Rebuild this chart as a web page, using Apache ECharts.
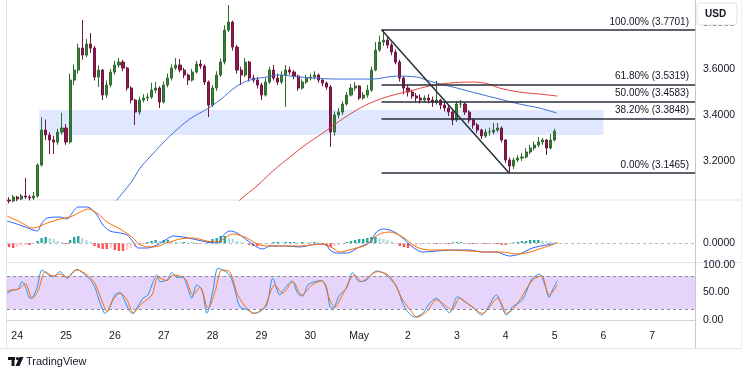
<!DOCTYPE html>
<html><head><meta charset="utf-8">
<script src="https://cdn.jsdelivr.net/npm/echarts@6/dist/echarts.min.js"></script>
<style>html,body{margin:0;padding:0;background:#fff}#c{width:749px;height:375px}</style>
</head><body><div id="c"></div>
<script>
// ---- axis / category setup (2-hour bars starting Apr 23 20:00) ----
const totalBars = 169;
const firstMidnightBar = 2;
const barsPerDay = 12;
const tickLabels = ['24','25','26','27','28','29','30','May','2','3','4','5','6','7'];
const priceTicks = [3.2, 3.4, 3.6, 3.8];

// ---- candles ----
const opens = [3.0300,3.0257,3.0430,3.0343,3.0474,3.0430,3.0387,3.0474,3.1822,3.3343,
3.3126,3.2909,3.2822,3.3257,3.3430,3.2822,3.5517,3.5952,3.6909,3.6604,
3.7083,3.6909,3.5648,3.5952,3.4865,3.5300,3.5865,3.6170,3.6300,3.6039,
3.5170,3.4648,3.4126,3.4648,3.4735,3.4778,3.5083,3.5170,3.4561,3.5300,
3.5604,3.6039,3.6170,3.5952,3.5735,3.5517,3.5865,3.6213,3.6126,3.5430,
3.4430,3.5170,3.5735,3.6300,3.7691,3.8039,3.6952,3.5952,3.5735,3.6300,
3.5604,3.5517,3.5300,3.4865,3.5430,3.5952,3.5604,3.5430,3.5735,3.5952,
3.5865,3.5691,3.5170,3.5430,3.5604,3.5648,3.5735,3.5517,3.5387,3.5213,
3.3257,3.3996,3.4126,3.4474,3.4865,3.5170,3.5257,3.4735,3.4865,3.5083,
3.5952,3.6822,3.7170,3.7257,3.7039,3.6735,3.6300,3.5604,3.5170,3.4996,
3.4822,3.4735,3.4648,3.4735,3.4648,3.4561,3.4648,3.4430,3.4300,3.4126,
3.3778,3.4474,3.4474,3.4126,3.3778,3.3561,3.3343,3.3083,3.3257,3.3257,
3.3343,3.3430,3.2909,3.2039,3.1778,3.2039,3.2126,3.2170,3.2387,3.2561,
3.2691,3.2822,3.2909,3.2561,3.2909];
const closes = [3.0257,3.0430,3.0343,3.0474,3.0430,3.0387,3.0474,3.1822,3.3343,3.3126,
3.2909,3.2822,3.3257,3.3430,3.2822,3.5517,3.5952,3.6909,3.6604,3.7083,
3.6909,3.5648,3.5952,3.4865,3.5300,3.5865,3.6170,3.6300,3.6039,3.5170,
3.4648,3.4126,3.4648,3.4735,3.4778,3.5083,3.5170,3.4561,3.5300,3.5604,
3.6039,3.6170,3.5952,3.5735,3.5517,3.5865,3.6213,3.6126,3.5430,3.4430,
3.5170,3.5735,3.6300,3.7691,3.8039,3.6952,3.5952,3.5735,3.6300,3.5604,
3.5517,3.5300,3.4865,3.5430,3.5952,3.5604,3.5430,3.5735,3.5952,3.5865,
3.5691,3.5170,3.5430,3.5604,3.5648,3.5735,3.5517,3.5387,3.5213,3.3257,
3.3996,3.4126,3.4474,3.4865,3.5170,3.5257,3.4735,3.4865,3.5083,3.5952,
3.6822,3.7170,3.7257,3.7039,3.6735,3.6300,3.5604,3.5170,3.4996,3.4822,
3.4735,3.4648,3.4735,3.4648,3.4561,3.4648,3.4430,3.4300,3.4126,3.3778,
3.4474,3.4474,3.4126,3.3778,3.3561,3.3343,3.3083,3.3257,3.3257,3.3343,
3.3430,3.2909,3.2039,3.1778,3.2039,3.2126,3.2170,3.2387,3.2561,3.2691,
3.2822,3.2909,3.2561,3.2909,3.3296];
const highs = [3.0420,3.0520,3.0480,3.0560,3.1260,3.0520,3.0650,3.1900,3.3900,3.3800,
3.3250,3.3100,3.3400,3.4100,3.3600,3.5800,3.6200,3.7100,3.8130,3.7300,
3.7560,3.7000,3.6150,3.6000,3.5500,3.6000,3.6350,3.6480,3.6400,3.6100,
3.5250,3.4700,3.4800,3.4900,3.4950,3.5400,3.5430,3.5250,3.5450,3.5800,
3.6200,3.6474,3.6430,3.6050,3.5800,3.6000,3.6350,3.6400,3.6200,3.5500,
3.5300,3.5900,3.6450,3.7900,3.8780,3.8100,3.7050,3.6100,3.6474,3.6350,
3.5750,3.5650,3.5400,3.5600,3.6100,3.6170,3.5800,3.5900,3.6170,3.6100,
3.5950,3.5750,3.5550,3.5750,3.5800,3.5900,3.5800,3.5600,3.5450,3.5300,
3.4150,3.4300,3.4600,3.5000,3.5350,3.5430,3.5300,3.5000,3.5300,3.6100,
3.7170,3.7450,3.7701,3.7400,3.7150,3.6850,3.6400,3.5700,3.5300,3.5100,
3.4950,3.4900,3.4850,3.4900,3.4800,3.5480,3.4700,3.4550,3.4400,3.4200,
3.4600,3.4650,3.4550,3.4200,3.3850,3.3650,3.3400,3.3400,3.3450,3.3650,
3.3650,3.3500,3.2950,3.2150,3.2150,3.2250,3.2350,3.2550,3.2700,3.2850,
3.3040,3.3000,3.2950,3.3170,3.3400];
const lows = [3.0150,3.0200,3.0250,3.0300,3.0350,3.0280,3.0300,3.0400,3.1750,3.2900,
3.2300,3.2300,3.2700,3.3150,3.2700,3.2750,3.5300,3.5800,3.6400,3.6500,
3.6700,3.5500,3.5213,3.4648,3.4750,3.5200,3.5750,3.6050,3.5900,3.5050,
3.4500,3.3561,3.4000,3.4550,3.4600,3.4700,3.4950,3.4300,3.4500,3.5200,
3.5500,3.5950,3.5850,3.5600,3.5300,3.5450,3.5800,3.6000,3.5300,3.3909,
3.4350,3.5050,3.5650,3.6200,3.7600,3.6800,3.5800,3.5300,3.5650,3.5450,
3.5400,3.5150,3.4648,3.4800,3.5350,3.5500,3.5300,3.5350,3.4350,3.5750,
3.5550,3.5050,3.5100,3.5350,3.5500,3.5550,3.5400,3.5250,3.5100,3.2610,
3.3100,3.3850,3.4000,3.4400,3.4800,3.5050,3.4648,3.4650,3.4750,3.5000,
3.5900,3.6750,3.7000,3.6900,3.6600,3.6200,3.5450,3.4900,3.4800,3.4700,
3.4550,3.4500,3.4550,3.4500,3.4350,3.4450,3.4250,3.4150,3.3950,3.3561,
3.3700,3.4300,3.4000,3.3650,3.3400,3.3200,3.2950,3.3000,3.3100,3.3150,
3.3250,3.2800,3.1900,3.1465,3.1650,3.1950,3.2000,3.2100,3.2300,3.2450,
3.2600,3.2700,3.2257,3.2500,3.2850];
const lastPrice = 3.3296;

// ---- moving averages: [bar index, price] ----
const maBlue = [[25.5,3.0083],[26.5,3.0300],[28.5,3.0735],[30.4,3.1170],[32.2,3.1691],[34.6,3.2170],
[37.1,3.2648],[40.3,3.3213],[44.4,3.3822],[48.6,3.4257],[51.8,3.4648],[56.0,3.5257],[59.2,3.5517],
[63.3,3.5648],[66.5,3.5735],[71.4,3.5648],[81.2,3.5561],[89.3,3.5561],[95.2,3.5691],[100.1,3.5648],
[103.3,3.5474],[110.0,3.5170],[115.6,3.4909],[120.5,3.4691],[125.4,3.4474],[130.3,3.4300],[134.5,3.4083]];
const maRed = [[56.0,3.0083],[56.7,3.0300],[60.9,3.0909],[64.8,3.1561],[69.0,3.2170],[73.1,3.2735],
[77.1,3.3213],[81.2,3.3735],[85.4,3.4213],[89.3,3.4561],[93.5,3.4822],[98.4,3.5039],[103.3,3.5257],
[108.2,3.5387],[113.1,3.5430],[116.8,3.5387],[120.5,3.5170],[125.4,3.4996],[130.3,3.4909],[134.7,3.4822]];

// ---- zone and fibonacci ----
const zoneStart = 7.4, zoneEnd = 146.0, zoneLow = 3.313, zoneHigh = 3.422;
const fibStart = 91.5, fibEnd = 168.5, fibLowBar = 122.9;
const fibRatios = [1, 0.618, 0.5, 0.382, 0];
const fibPrices = [3.7701, 3.5319, 3.4583, 3.3848, 3.1465];

// ---- MACD ----
const macdHist = [-0.008,-0.010,-0.008,-0.006,-0.004,-0.004,-0.002,0.004,0.010,0.012,
0.010,0.008,0.004,0.002,-0.002,0.006,0.012,0.014,0.010,0.006,
0.002,-0.006,-0.010,-0.012,-0.012,-0.010,-0.014,-0.016,-0.016,-0.014,
-0.010,-0.008,-0.004,-0.002,0.002,0.004,0.006,0.004,0.006,0.006,
0.004,0.003,0.002,0.002,0.001,0.001,-0.002,-0.002,-0.001,0.004,
0.008,0.010,0.014,0.014,0.010,0.008,0.004,0.002,0.001,-0.004,
-0.006,-0.006,-0.004,-0.002,-0.001,0.002,0.002,0.001,0.002,0.002,
0.002,0.001,0.002,0.001,0.001,0.002,0.001,-0.002,-0.006,-0.008,
-0.006,-0.004,-0.002,0.002,0.004,0.006,0.008,0.008,0.010,0.012,
0.012,0.010,0.008,0.006,0.004,0.001,-0.006,-0.008,-0.010,-0.008,
-0.006,-0.004,-0.002,-0.002,-0.001,-0.002,-0.001,-0.001,-0.002,0.001,
0.002,0.002,-0.001,-0.002,-0.002,-0.002,-0.001,-0.002,-0.002,-0.001,
-0.002,-0.004,-0.004,-0.002,0.001,0.002,0.004,0.004,0.006,0.006,
0.006,0.005,0.004,0.003,0.002];
const macdLine = [[-0.45,0.044],[2.7,0.036],[5.9,0.026],[6.9,0.024],[8.1,0.040],[9.4,0.050],[12.5,0.052],
[14.3,0.048],[15.5,0.060],[17.0,0.072],[18.7,0.072],[19.9,0.070],[21.6,0.056],[23.1,0.036],[24.8,0.024],
[27.3,0.020],[29.0,0.016],[30.5,0.002],[31.7,-0.010],[33.9,-0.010],[36.3,-0.004],[38.8,0.008],[40.3,0.014],
[42.7,0.012],[45.2,0.008],[48.6,0.002],[51.1,0.000],[52.5,0.014],[54.2,0.024],[56.0,0.020],[58.4,0.006],
[60.9,-0.008],[62.3,-0.012],[64.1,-0.006],[68.2,-0.006],[71.4,-0.008],[75.6,-0.002],[78.0,-0.004],
[78.8,-0.014],[80.5,-0.020],[82.9,-0.020],[86.1,-0.008],[88.6,0.002],[90.3,0.022],[91.8,0.028],
[94.2,0.024],[96.7,0.010],[99.1,-0.008],[101.6,-0.018],[105.0,-0.016],[108.9,-0.014],[113.1,-0.014],
[116.3,-0.018],[119.7,-0.018],[122.9,-0.026],[125.4,-0.022],[128.6,-0.010],[132.0,-0.004],[134.7,0.000]];
const macdSignal = [[-0.45,0.054],[2.7,0.042],[5.9,0.030],[9.4,0.040],[12.5,0.048],[15.0,0.052],[17.5,0.062],
[19.4,0.068],[21.6,0.060],[24.1,0.042],[27.3,0.028],[30.5,0.010],[32.2,-0.004],[35.4,-0.008],[38.8,0.000],
[42.0,0.008],[45.2,0.010],[48.6,0.004],[51.1,0.002],[55.0,0.018],[58.4,0.010],[61.6,-0.004],[64.8,-0.006],
[71.4,-0.006],[77.1,-0.002],[79.5,-0.010],[81.2,-0.018],[84.4,-0.012],[87.8,-0.004],[89.1,0.006],
[91.0,0.018],[93.5,0.022],[96.7,0.012],[100.1,-0.008],[103.3,-0.014],[108.2,-0.014],[113.1,-0.016],
[117.3,-0.018],[121.2,-0.018],[124.6,-0.022],[127.0,-0.020],[130.3,-0.012],[134.7,0.000]];

// ---- Stochastic ----
const stochK = [[-0.45,48.5],[1.0,54.5],[2.2,55.8],[3.2,69.7],[4.0,60.6],[5.2,39.4],[5.9,42.4],[6.9,59.4],
[8.1,90.9],[9.4,83.6],[10.8,78.8],[12.5,87.9],[14.3,75.8],[15.5,86.1],[16.7,92.1],[18.2,84.8],[19.9,73.9],
[21.1,59.4],[22.4,30.3],[23.6,12.1],[24.8,24.2],[26.0,45.5],[27.3,49.7],[28.5,33.3],[29.7,15.2],[30.5,12.1],
[31.7,25.5],[32.9,39.4],[34.1,45.5],[35.4,69.7],[36.3,81.8],[37.1,69.7],[38.8,72.7],[40.0,86.1],[41.2,77.6],
[42.7,77.6],[43.9,57.6],[44.9,39.4],[46.1,63.6],[47.4,54.5],[48.6,12.1],[50.1,54.5],[51.3,93.9],[52.5,90.9],
[54.2,81.8],[55.5,54.5],[56.7,24.2],[58.7,18.2],[59.9,12.1],[61.6,15.2],[63.3,27.3],[64.8,75.8],[66.5,45.5],
[67.7,57.6],[69.5,70.9],[70.9,48.5],[72.1,43.6],[73.4,63.6],[75.1,69.7],[76.8,71.5],[78.0,59.4],[78.8,24.2],
[79.5,21.2],[81.2,45.5],[82.9,57.6],[84.4,86.1],[86.1,69.7],[87.8,72.7],[89.3,85.0],[90.3,89.0],[91.8,86.1],
[93.5,76.0],[95.2,60.6],[96.7,30.3],[97.9,15.2],[99.6,5.5],[101.6,12.1],[103.3,30.3],[105.0,39.4],[106.2,30.3],
[108.2,13.3],[110.2,42.4],[111.9,33.3],[113.8,24.2],[116.1,9.1],[117.5,21.2],[119.7,45.5],[122.2,9.1],
[123.7,24.2],[126.1,36.4],[128.3,72.7],[130.3,83.6],[131.5,66.7],[132.7,41.2],[133.5,54.5],[134.7,71.5]];
const stochD = [[-0.45,53.3],[2.7,57.6],[4.0,66.7],[5.7,39.4],[7.2,54.5],[8.9,87.9],[10.8,80.0],[12.5,83.6],
[14.3,77.6],[16.7,90.9],[19.2,81.8],[21.1,66.7],[22.9,33.3],[24.1,15.2],[25.5,36.4],[27.3,48.5],[29.0,36.4],
[30.5,13.3],[32.7,30.3],[35.1,45.5],[36.6,77.6],[38.8,71.5],[40.3,81.8],[43.2,75.8],[45.2,45.5],[46.9,59.4],
[48.9,21.2],[50.6,51.5],[52.3,90.9],[54.2,87.9],[56.2,45.5],[58.4,21.2],[60.4,12.1],[62.8,24.2],[65.3,63.6],
[67.2,48.5],[69.7,69.7],[71.9,45.5],[74.4,63.6],[76.8,71.5],[78.8,36.4],[80.0,23.0],[81.9,45.5],[84.9,81.8],
[86.6,69.7],[88.6,80.0],[90.5,87.9],[92.8,83.6],[94.7,66.7],[96.7,36.4],[98.9,15.2],[100.1,4.8],[102.6,15.2],
[105.0,36.4],[106.5,30.3],[108.7,18.2],[110.7,39.4],[113.1,27.3],[116.3,12.1],[120.0,39.4],[122.4,12.1],
[124.9,30.3],[128.6,72.7],[130.8,80.0],[132.7,45.5],[134.7,63.6]];
const stochBand = [20, 80];

// ---------------- build ----------------
const cats = [];
for (let i = 0; i < totalBars; i++) cats.push('b' + i);
const candleData = opens.map((o, i) => [o, closes[i], lows[i], highs[i]]);
const histData = macdHist.map((v, i) => {
  const p = i > 0 ? macdHist[i - 1] : v;
  let c;
  if (v >= 0) c = v >= p ? '#26a69a' : '#b2dfdb';
  else c = v <= p ? '#ff5252' : '#ffcdd2';
  return { value: v, itemStyle: { color: c } };
});

const FONT = "'Liberation Sans', Arial, sans-serif";
const TXT = '#131722';
const G = { left: 7, right: 54 };
const hiddenCat = (g) => ({ type: 'category', gridIndex: g, data: cats, boundaryGap: true, show: false });
const hiddenVal = (g) => ({ type: 'value', gridIndex: g, min: -0.5, max: totalBars - 0.5, show: false });

const fibLines = fibRatios.map((r, k) => [
  { coord: [fibStart, fibPrices[k]],
    label: { show: true, position: 'insideEndTop', distance: [6, 3],
      formatter: (r * 100).toFixed(2) + '% (' + fibPrices[k].toFixed(4) + ')',
      color: TXT, fontSize: 10, fontFamily: "'Liberation Sans Narrow', " + FONT } },
  { coord: [fibEnd, fibPrices[k]] }
]);
fibLines.push([{ coord: [fibStart, fibPrices[0]], label: { show: false } }, { coord: [fibLowBar, fibPrices[4]] }]);

const option = {
  animation: false,
  backgroundColor: '#ffffff',
  grid: [
    { ...G, top: 0, height: 200 },
    { ...G, top: 200, height: 62 },
    { ...G, top: 265, height: 55 }
  ],
  xAxis: [
    hiddenCat(0), hiddenVal(0), hiddenCat(1), hiddenVal(1),
    { type: 'category', gridIndex: 2, data: cats, boundaryGap: true, offset: 4,
      axisLine: { show: true, lineStyle: { color: '#d1d4dc' } }, axisTick: { show: false },
      axisLabel: { interval: (idx) => idx >= firstMidnightBar && (idx - firstMidnightBar) % barsPerDay === 0,
        formatter: (v, idx) => tickLabels[(idx - firstMidnightBar) / barsPerDay] || '',
        color: TXT, fontSize: 10.5, fontFamily: FONT, margin: 7 } },
    hiddenVal(2)
  ],
  yAxis: [
    { type: 'value', gridIndex: 0, position: 'right', min: 3.03, max: 3.90, interval: 0.01,
      axisLine: { show: false }, axisTick: { show: false }, splitLine: { show: false },
      axisLabel: { margin: 8, color: TXT, fontSize: 10.5, fontFamily: FONT,
        formatter: (v) => priceTicks.some(t => Math.abs(v - t) < 1e-6) ? v.toFixed(4) : '' } },
    { type: 'value', gridIndex: 1, position: 'right', min: -0.038, max: 0.086, interval: 0.002,
      axisLine: { show: false }, axisTick: { show: false }, splitLine: { show: false },
      axisLabel: { margin: 8, color: TXT, fontSize: 10.5, fontFamily: FONT,
        formatter: (v) => Math.abs(v) < 1e-9 ? '0.0000' : '' } },
    { type: 'value', gridIndex: 2, position: 'right', min: 0, max: 100, interval: 50,
      axisLine: { show: false }, axisTick: { show: false }, splitLine: { show: false },
      axisLabel: { margin: 8, color: TXT, fontSize: 10.5, fontFamily: FONT, formatter: (v) => v.toFixed(2) } }
  ],
  series: [
    { type: 'line', xAxisIndex: 1, yAxisIndex: 0, data: [], z: 1, silent: true,
      markArea: { silent: true, itemStyle: { color: 'rgba(41,98,255,0.15)' },
        data: [[{ coord: [zoneStart, zoneHigh] }, { coord: [zoneEnd, zoneLow] }]] } },
    { type: 'candlestick', xAxisIndex: 0, yAxisIndex: 0, data: candleData, barWidth: 2.6, clip: true, z: 3,
      itemStyle: { color: '#3b7f3b', color0: '#8d1c4c', borderColor: '#2f6a2f', borderColor0: '#731440', borderWidth: 1 },
      markLine: { silent: true, symbol: 'none', lineStyle: { opacity: 0 },
        data: [{ yAxis: lastPrice, label: { show: true, position: 'end', distance: 1, formatter: lastPrice.toFixed(4),
          backgroundColor: '#2db14a', color: '#fff', padding: [3, 5, 2, 5], fontSize: 10.5, fontFamily: FONT } }] } },
    { type: 'line', xAxisIndex: 1, yAxisIndex: 0, data: maBlue, smooth: 0.4, symbol: 'none', z: 4,
      lineStyle: { color: '#3f6fd4', width: 1 } },
    { type: 'line', xAxisIndex: 1, yAxisIndex: 0, data: maRed, smooth: 0.4, symbol: 'none', z: 4,
      lineStyle: { color: '#e0443c', width: 1 } },
    { type: 'line', xAxisIndex: 1, yAxisIndex: 0, data: [], z: 6, silent: true,
      markLine: { silent: true, symbol: 'none', lineStyle: { color: '#2a2e39', width: 1.5, type: 'solid' }, data: fibLines } },
    { type: 'bar', xAxisIndex: 2, yAxisIndex: 1, data: histData, barWidth: 2.4, z: 2,
      markLine: { silent: true, symbol: 'none', label: { show: false },
        lineStyle: { color: '#b8bbc4', type: [3, 3], width: 1 }, data: [{ yAxis: 0 }] } },
    { type: 'line', xAxisIndex: 3, yAxisIndex: 1, data: macdLine, smooth: 0.3, symbol: 'none', z: 4,
      lineStyle: { color: '#2962ff', width: 1 } },
    { type: 'line', xAxisIndex: 3, yAxisIndex: 1, data: macdSignal, smooth: 0.3, symbol: 'none', z: 4,
      lineStyle: { color: '#ff6d00', width: 1 } },
    { type: 'line', xAxisIndex: 5, yAxisIndex: 2, data: stochK, smooth: 0.3, symbol: 'none', z: 4,
      lineStyle: { color: '#2196f3', width: 1 },
      markArea: { silent: true, itemStyle: { color: '#e6d4fa' },
        data: [[{ coord: [-0.5, stochBand[1]] }, { coord: [totalBars - 0.5, stochBand[0]] }]] },
      markLine: { silent: true, symbol: 'none', label: { show: false },
        lineStyle: { color: '#8a8d96', type: [3, 3], width: 1 },
        data: [{ yAxis: stochBand[0] }, { yAxis: stochBand[1] }] } },
    { type: 'line', xAxisIndex: 5, yAxisIndex: 2, data: stochD, smooth: 0.3, symbol: 'none', z: 4,
      lineStyle: { color: '#ff6d00', width: 1 } }
  ],
  graphic: [
    { type: 'line', shape: { x1: 7, y1: 200, x2: 741, y2: 200 }, style: { stroke: '#e0e3eb', lineWidth: 1 }, silent: true },
    { type: 'line', shape: { x1: 7, y1: 262.5, x2: 741, y2: 262.5 }, style: { stroke: '#e0e3eb', lineWidth: 1 }, silent: true },
    { type: 'line', shape: { x1: 0, y1: 348.5, x2: 741, y2: 348.5 }, style: { stroke: '#e0e3eb', lineWidth: 1 }, silent: true },
    { type: 'line', shape: { x1: 6.5, y1: 0, x2: 6.5, y2: 348 }, style: { stroke: '#e0e3eb', lineWidth: 1 }, silent: true },
    { type: 'line', shape: { x1: 741.5, y1: 0, x2: 741.5, y2: 348 }, style: { stroke: '#eceef2', lineWidth: 1 }, silent: true },
    { type: 'line', shape: { x1: 695.5, y1: 0, x2: 695.5, y2: 348 }, style: { stroke: '#c5c8cf', lineWidth: 1 }, silent: true },
    { type: 'rect', shape: { x: 697, y: 3, width: 40, height: 22, r: 3 }, style: { fill: '#ffffff', stroke: '#e0e3eb' }, z: 100 },
    { type: 'text', x: 705, y: 9, z: 101, style: { text: 'USD', fill: TXT, font: "bold 10px 'Liberation Sans', Arial, sans-serif" } },
    { type: 'rect', shape: { x: 8, y: 357, width: 7, height: 3 }, style: { fill: '#131722' } },
    { type: 'rect', shape: { x: 11.5, y: 357, width: 3, height: 9 }, style: { fill: '#131722' } },
    { type: 'circle', shape: { cx: 17.5, cy: 358.6, r: 1.6 }, style: { fill: '#131722' } },
    { type: 'polygon', shape: { points: [[19.5, 357], [23.5, 357], [19.5, 366], [15.5, 366]] }, style: { fill: '#131722' } },
    { type: 'text', x: 26, y: 356, style: { text: 'TradingView', fill: TXT, font: "11px 'Liberation Sans', Arial, sans-serif" } }
  ]
};
const chart = echarts.init(document.getElementById('c'));
chart.setOption(option);
</script></body></html>
